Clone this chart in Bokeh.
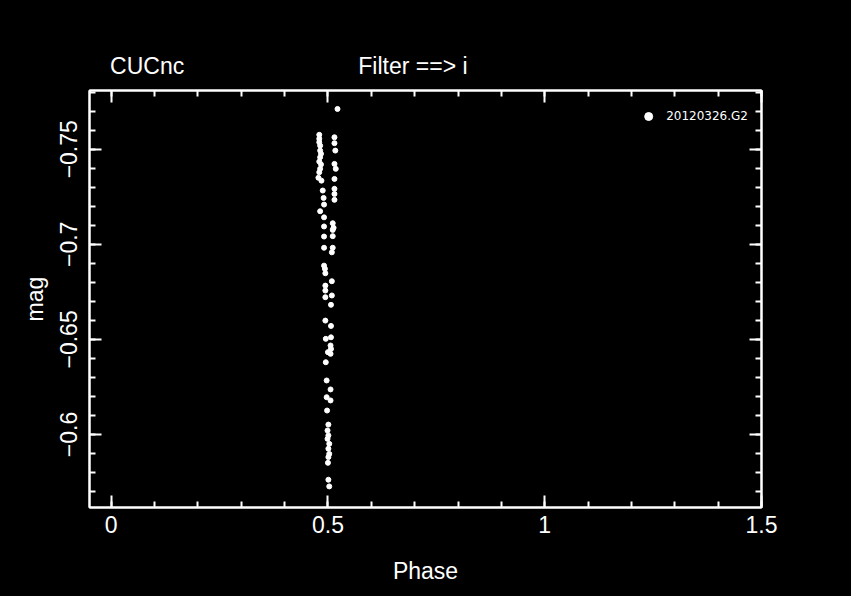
from bokeh.plotting import figure
from bokeh.models import (Range1d, FixedTicker, LinearAxis, Legend)
from bokeh.embed import file_html
from bokeh.resources import INLINE

# ---- data ----
phase = [
    0.522,
    0.480, 0.480, 0.480, 0.482, 0.482, 0.484, 0.482, 0.480, 0.484, 0.482,
    0.480, 0.478, 0.485, 0.488, 0.490, 0.491, 0.482, 0.491, 0.491,
    0.515, 0.515, 0.517, 0.515, 0.518, 0.515, 0.515, 0.515, 0.515, 0.511, 0.513,
    0.511, 0.491, 0.511, 0.491, 0.511, 0.509, 0.491, 0.493, 0.494, 0.509,
    0.494, 0.494, 0.494, 0.509, 0.507, 0.494, 0.507, 0.495, 0.507, 0.506,
    0.500, 0.507,
    0.506, 0.495, 0.497, 0.506, 0.497, 0.506, 0.498, 0.501, 0.499, 0.501,
    0.499, 0.503, 0.501, 0.503, 0.501, 0.500, 0.501, 0.503,
]
mag = [
    -0.7712,
    -0.7576, -0.7555, -0.7537, -0.7519, -0.7493, -0.7476, -0.7458, -0.7435, -0.7420, -0.7397,
    -0.7379, -0.7350, -0.7335, -0.7283, -0.7244, -0.7209, -0.7174, -0.7142, -0.7094,
    -0.7563, -0.7532, -0.7493, -0.7423, -0.7397, -0.7344, -0.7292, -0.7265, -0.7234, -0.7111, -0.7087,
    -0.7076, -0.7041, -0.7043, -0.6982, -0.6982, -0.6958, -0.6888, -0.6871, -0.6848, -0.6806,
    -0.6783, -0.6757, -0.6722, -0.6731, -0.6682, -0.6599, -0.6571, -0.6503, -0.6511, -0.6468,
    -0.6433, -0.6450,
    -0.6424, -0.6380, -0.6284, -0.6237, -0.6196, -0.6179, -0.6126, -0.6052, -0.6021, -0.5995,
    -0.5977, -0.5951, -0.5925, -0.5898, -0.5881, -0.5851, -0.5762, -0.5727,
]
series_label = "20120326.G2"
header_texts = ["CUCnc", "Filter ==> i"]
x_ticks = [0, 0.5, 1, 1.5]
x_tick_labels = ["0", "0.5", "1", "1.5"]
y_ticks = [-0.75, -0.7, -0.65, -0.6]
y_tick_labels = ["\u22120.75", "\u22120.7", "\u22120.65", "\u22120.6"]
x_minor = [round(0.1 * i, 2) for i in range(0, 16)]
y_minor = [round(-0.78 + 0.01 * i, 2) for i in range(0, 23)]

# horizontal anchor (phase units) of the two header texts above the frame
header_anchor = [0.083, 0.696]

FONT = "Liberation Sans"
FS = "23px"
W = "white"

p = figure(width=851, height=596, output_backend="svg", toolbar_location=None,
           x_range=Range1d(-0.05, 1.5), y_range=Range1d(-0.5616, -0.7809),
           min_border_left=89, min_border_right=90, min_border_top=90,
           min_border_bottom=89)
p.background_fill_color = "black"
p.border_fill_color = "black"
p.outline_line_color = W
p.outline_line_width = 2
p.xgrid.visible = False
p.ygrid.visible = False

xt = FixedTicker(ticks=x_ticks, minor_ticks=x_minor)
yt = FixedTicker(ticks=y_ticks, minor_ticks=y_minor)


def style_axis(ax):
    ax.axis_line_color = W
    ax.axis_line_width = 2
    ax.major_tick_line_color = W
    ax.major_tick_line_width = 2
    ax.minor_tick_line_color = W
    ax.minor_tick_line_width = 2
    ax.major_tick_in = 12
    ax.major_tick_out = 0
    ax.minor_tick_in = 6
    ax.minor_tick_out = 0
    ax.major_label_text_color = W
    ax.major_label_text_font = FONT
    ax.major_label_text_font_size = FS
    ax.axis_label_text_color = W
    ax.axis_label_text_font = FONT
    ax.axis_label_text_font_size = FS
    ax.axis_label_text_font_style = "normal"


xa = p.xaxis[0]
xa.ticker = xt
xa.major_label_overrides = dict(zip(x_ticks, x_tick_labels))
style_axis(xa)
xa.axis_label = "Phase"
xa.major_label_standoff = 8
xa.axis_label_standoff = 22

ya = p.yaxis[0]
ya.ticker = yt
ya.major_label_overrides = dict(zip(y_ticks, y_tick_labels))
style_axis(ya)
ya.axis_label = "mag"
ya.major_label_orientation = "vertical"
ya.major_label_standoff = 12
ya.axis_label_standoff = 10

# mirrored tick marks on top and right (no labels)
top = LinearAxis(ticker=xt)
style_axis(top)
top.major_label_overrides = {t: "" for t in x_ticks}
top.major_label_standoff = 0
top.major_label_text_font_size = "1px"
p.add_layout(top, "above")

right = LinearAxis(ticker=yt)
style_axis(right)
right.major_label_overrides = {t: "" for t in y_ticks}
right.major_label_standoff = 0
right.major_label_text_font_size = "1px"
p.add_layout(right, "right")

# header line above the frame: star name and filter
header = LinearAxis(ticker=FixedTicker(ticks=header_anchor, minor_ticks=[]))
style_axis(header)
header.axis_line_color = None
header.major_tick_line_color = None
header.minor_tick_line_color = None
header.major_tick_in = 0
header.minor_tick_in = 0
header.major_label_overrides = dict(zip(header_anchor, header_texts))
header.major_label_standoff = 12
p.add_layout(header, "above")

r = p.scatter(phase, mag, size=5, marker="circle", color=W, line_color=W)

legend = Legend(items=[(series_label, [r])], location="top_right")
legend.border_line_color = None
legend.background_fill_alpha = 0
legend.label_text_color = W
legend.label_text_font = "DejaVu Sans"
legend.label_text_font_size = "12px"
legend.glyph_width = 20
legend.glyph_height = 26
legend.label_standoff = 8
legend.padding = 0
legend.margin = 13
p.add_layout(legend, "center")

html = file_html(p, INLINE)
html = html.replace("<head>", "<head><style>html,body{background:#000;margin:0;}</style>", 1)
open("out.html", "w").write(html)
